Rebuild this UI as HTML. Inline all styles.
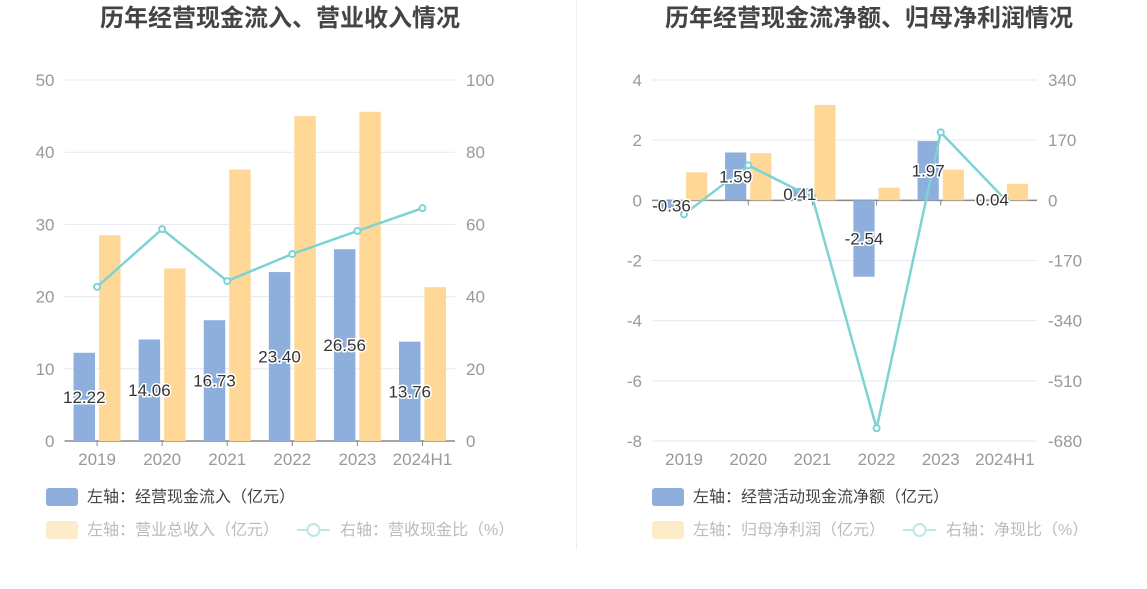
<!DOCTYPE html>
<html><head><meta charset="utf-8">
<style>
body{margin:0;background:#fff;width:1147px;height:589px;overflow:hidden;font-family:"Liberation Sans","Noto Sans CJK SC",sans-serif;}
svg{display:block}
text{font-family:"Liberation Sans","Noto Sans CJK SC",sans-serif;}
</style></head>
<body>
<svg id="c" width="1147" height="589">
<line x1="576.5" y1="0" x2="576.5" y2="550" stroke="#eeeeee"/>
<text x="280" y="26" text-anchor="middle" font-size="24" font-weight="bold" fill="#444">历年经营现金流入、营业收入情况</text>
<text x="869" y="26" text-anchor="middle" font-size="24" font-weight="bold" fill="#444">历年经营现金流净额、归母净利润情况</text>
<g id="L"></g><g id="R"></g>
<g>
<rect x="46" y="488" width="32" height="18" rx="3" fill="#8eaedc"/>
<text x="87" y="502" font-size="16" fill="#444">左轴：经营现金流入（亿元）</text>
<rect x="46" y="521" width="32" height="18" rx="3" fill="#fdecca"/>
<text x="87" y="535" font-size="16" fill="#bbb">左轴：营业总收入（亿元）</text>
<line x1="297" y1="530" x2="330" y2="530" stroke="#bfe7e7" stroke-width="2"/>
<circle cx="313.5" cy="530" r="6" fill="#fff" stroke="#bfe7e7" stroke-width="2"/>
<text x="340" y="535" font-size="16" fill="#bbb">右轴：营收现金比（%）</text>
</g>
<g>
<rect x="652" y="488" width="32" height="18" rx="3" fill="#8eaedc"/>
<text x="693" y="502" font-size="16" fill="#444">左轴：经营活动现金流净额（亿元）</text>
<rect x="652" y="521" width="32" height="18" rx="3" fill="#fdecca"/>
<text x="693" y="535" font-size="16" fill="#bbb">左轴：归母净利润（亿元）</text>
<line x1="903" y1="530" x2="936" y2="530" stroke="#bfe7e7" stroke-width="2"/>
<circle cx="919.5" cy="530" r="6" fill="#fff" stroke="#bfe7e7" stroke-width="2"/>
<text x="946" y="535" font-size="16" fill="#bbb">右轴：净现比（%）</text>
</g>
</svg>
<script>
const categories = ["2019","2020","2021","2022","2023","2024H1"];
const inflowValues = [12.22,14.06,16.73,23.40,26.56,13.76];
const revenueValues = [28.5,23.9,37.6,45.0,45.6,21.3];
const cashRatioValues = [42.7,58.7,44.3,51.8,58.2,64.5];
const leftTicksL = [0,10,20,30,40,50];
const leftTicksR = [0,20,40,60,80,100];
const netFlowValues = [-0.36,1.59,0.41,-2.54,1.97,0.04];
const profitValues = [0.93,1.57,3.17,0.42,1.02,0.55];
const netRatioValues = [-39.5,99,8,-644,192,3];
const rightTicksL = [-8,-6,-4,-2,0,2,4];
const rightTicksR = [-680,-510,-340,-170,0,170,340];

const NS="http://www.w3.org/2000/svg";
function mk(p,tag,a){const e=document.createElementNS(NS,tag);for(const k in a)e.setAttribute(k,a[k]);p.appendChild(e);return e;}

function chart(g,o){
  const band=(o.x1-o.x0)/categories.length;
  const xc=i=>o.x0+band*(i+0.5);
  const yL=v=>o.yB+(v-o.lmin)/(o.lmax-o.lmin)*(o.yT-o.yB);
  const yR=v=>o.yB+(v-o.rmin)/(o.rmax-o.rmin)*(o.yT-o.yB);
  o.tl.forEach((t,i)=>{
    const y=yL(t);
    const gl=mk(g,'line',{x1:o.x0,x2:o.x1,y1:y,y2:y,stroke:'#e6e9f2'});
    
    
    const a=mk(g,'text',{x:o.x0-10,y:y+6,'text-anchor':'end','font-size':17,fill:'#999'});
    a.textContent=t;
    
    
    const b=mk(g,'text',{x:o.x1+11,y:y+6,'font-size':17,fill:'#999'});
    b.textContent=o.tr[i];
    
    
  });
  const y0=yL(0);
  const ax=mk(g,'line',{x1:o.x0,x2:o.x1,y1:y0,y2:y0,stroke:'#888','stroke-width':1.5});
  
  
  const bw=band*0.33;
  const labels=[];
  categories.forEach((c,i)=>{
    const x=xc(i);
    mk(g,'line',{x1:x,x2:x,y1:y0,y2:y0+5,stroke:'#888'});
    const t=mk(g,'text',{x:x,y:o.yB+24,'text-anchor':'middle','font-size':17,fill:'#999'});
    t.textContent=c;
    
    
    const v=o.a[i], ya=yL(v);
    const r1=mk(g,'rect',{x:x-bw-2,y:Math.min(ya,y0),width:bw,height:Math.abs(ya-y0),fill:'#8eaedc'});
    
    
    const v2=o.b[i], yb=yL(v2);
    const r2=mk(g,'rect',{x:x+2,y:Math.min(yb,y0),width:bw,height:Math.abs(yb-y0),fill:'#ffd897'});
    
    
    labels.push([x-bw/2-2,(ya+y0)/2+6,v.toFixed(2)]);
  });
  const pts=o.c.map((v,i)=>xc(i)+','+yR(v)).join(' ');
  const pl=mk(g,'polyline',{points:pts,fill:'none',stroke:'#7dd3d3','stroke-width':2.5});
  
  
  o.c.forEach((v,i)=>{
    const p=mk(g,'circle',{cx:xc(i),cy:yR(v),r:3,fill:'#fff',stroke:'#7dd3d3','stroke-width':2});
    
    
  });
  labels.forEach(l=>{
    const t=mk(g,'text',{x:l[0],y:l[1],'text-anchor':'middle','font-size':17,fill:'#333',stroke:'#fff','stroke-width':3,'paint-order':'stroke'});
    t.textContent=l[2];
    
    
  });
}
chart(document.getElementById('L'),{x0:64.5,x1:455,yT:80,yB:441,lmin:0,lmax:50,rmin:0,rmax:100,tl:leftTicksL,tr:leftTicksR,a:inflowValues,b:revenueValues,c:cashRatioValues,an:'inflow',bn:'revenue',cn:'cash-ratio'});
chart(document.getElementById('R'),{x0:652,x1:1037,yT:80,yB:441,lmin:-8,lmax:4,rmin:-680,rmax:340,tl:rightTicksL,tr:rightTicksR,a:netFlowValues,b:profitValues,c:netRatioValues,an:'netflow',bn:'profit',cn:'net-ratio'});
</script>
</body></html>
